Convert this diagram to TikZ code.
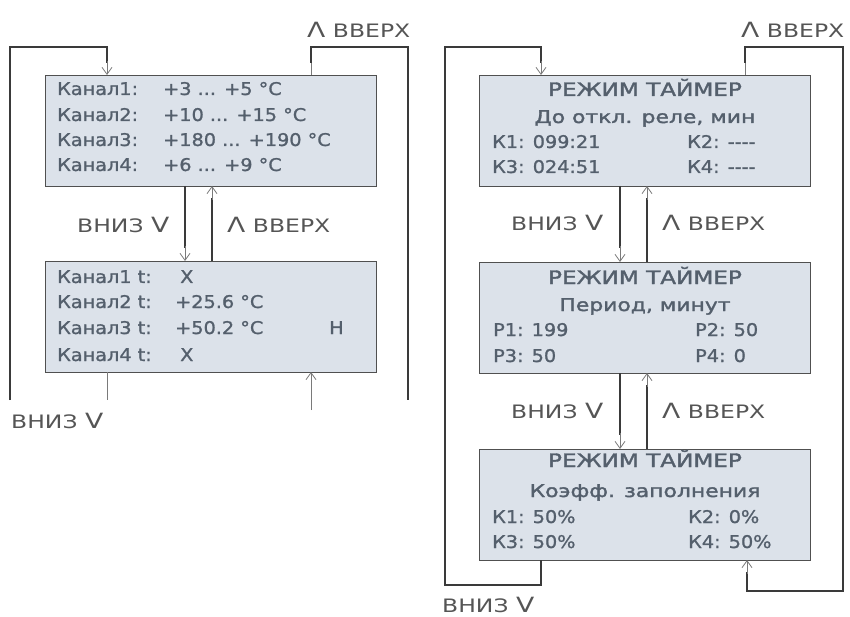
\documentclass[tikz,border=0pt]{standalone}
\usepackage{fontspec}
\setmainfont{DejaVu Sans}
\newfontfamily\lcdfont[FakeStretch=1.1,FakeBold=1.2]{DejaVu Sans}
\newfontfamily\lcdttl[FakeStretch=1.25,FakeBold=1.8]{DejaVu Sans}
\newfontfamily\lblfont[FakeStretch=1.27]{DejaVu Sans}
\usetikzlibrary{arrows.meta}
\definecolor{boxfill}{HTML}{DCE2EA}
\definecolor{boxline}{HTML}{505050}
\definecolor{txtcol}{HTML}{545F6C}
\definecolor{lblcol}{HTML}{555555}
\definecolor{linecol}{HTML}{3A3A3A}
\definecolor{arrcol}{HTML}{7A7A7A}
\begin{document}
\begin{tikzpicture}[x=1pt,y=-1pt,
 lcdbox/.style={draw=boxline, fill=boxfill, line width=1.3pt, minimum width=331pt, minimum height=111pt, inner sep=0pt, anchor=north west},
 txt/.style={text=txtcol, font=\lcdfont\fontsize{17.5}{20}\selectfont, anchor=base west, inner sep=0pt},
 ttl/.style={text=txtcol, font=\lcdttl\fontsize{18.5}{20}\selectfont, anchor=base, inner sep=0pt},
 sub/.style={text=txtcol, font=\lcdttl\fontsize{17.5}{20}\selectfont, anchor=base, inner sep=0pt},
 lbl/.style={text=lblcol, font=\lblfont\fontsize{18.5}{20}\selectfont, anchor=west, inner sep=0pt},
 conn/.style={draw=linecol, line width=1.2pt},
 faint/.style={draw=arrcol, line width=0.8pt},
 tip/.style={-{Straight Barb[length=7pt,width=10pt,line width=0.8pt,color=arrcol]}}
]
\useasboundingbox (0,0) rectangle (850,617);
\newcommand\bigV{{\fontsize{21}{21}\selectfont V}}
\newcommand\bigL{{\fontsize{21}{21}\selectfont Λ}}

% ---------- left panel ----------
\node[lcdbox] (L1) at (45,75) {};
\node[lcdbox] (L2) at (45,261) {};

\node[txt] (l1a) at (57,95) {Канал1:};  \node[txt] (l1av) at (163,95) {+3 ... +5 °C};
\node[txt] (l1b) at (57,121) {Канал2:}; \node[txt] (l1bv) at (163,121) {+10 ... +15 °C};
\node[txt] (l1c) at (57,146) {Канал3:}; \node[txt] (l1cv) at (163,146) {+180 ... +190 °C};
\node[txt] (l1d) at (57,171) {Канал4:}; \node[txt] (l1dv) at (163,171) {+6 ... +9 °C};

\node[txt] (l2a) at (57,283) {Канал1 t:}; \node[txt] (l2av) at (180,283) {X};
\node[txt] (l2b) at (57,308) {Канал2 t:}; \node[txt] (l2bv) at (175,308) {+25.6 °C};
\node[txt] (l2c) at (57,334) {Канал3 t:}; \node[txt] (l2cv) at (175,334) {+50.2 °C};
\node[txt] (l2h) at (329,334) {Н};
\node[txt] (l2d) at (57,361) {Канал4 t:}; \node[txt] (l2dv) at (180,361) {X};

\coordinate (L1in) at (107,75);
\coordinate (L1out) at (311,75);
\coordinate (Lleft) at (10,400);
\coordinate (Lright) at (408,400);
\coordinate (L2out) at (107,372);
\coordinate (L2outend) at (107,400);
\coordinate (L2instart) at (311,410);
\coordinate (L2in) at (311,372);

\draw[conn] (Lleft) -- (10,47) -- (L1in |- 0,47) -- ([yshift=12pt]L1in);
\draw[faint,tip] ([yshift=14pt]L1in) -- (L1in);
\draw[faint] (L1out) -- ([yshift=14pt]L1out);
\draw[conn] ([yshift=12pt]L1out) -- (L1out |- 0,47) -- (408,47) -- (Lright);
\draw[faint] (L2out) -- (L2outend);
\draw[faint,tip] (L2instart) -- (L2in);

\draw[conn] (185,186) -- (185,248);
\draw[faint,tip] (185,246) -- (185,261);
\draw[conn] (212,261) -- (212,198);
\draw[faint,tip] (212,200) -- (212,186);

\node[lbl] (lt) at (307,30) {\bigL\ ВВЕРХ};
\node[lbl] (lmd) at (77,225) {ВНИЗ \bigV};
\node[lbl] (lmu) at (227,225) {\bigL\ ВВЕРХ};
\node[lbl] (lb) at (11,421) {ВНИЗ \bigV};

% ---------- right panel ----------
\node[lcdbox] (R1) at (479,75) {};
\node[lcdbox] (R2) at (479,262) {};
\node[lcdbox] (R3) at (479,449) {};

\node[ttl] (r1t) at (645,96) {РЕЖИМ ТАЙМЕР};
\node[sub] (r1s) at (645,123) {До откл. реле, мин};
\node[txt] (r1a) at (492,148) {К1: 099:21};
\node[txt] (r1b) at (687,148) {К2: -{}-{}-{}-};
\node[txt] (r1c) at (492,173) {К3: 024:51};
\node[txt] (r1d) at (687,173) {К4: -{}-{}-{}-};

\node[ttl] (r2t) at (645,284) {РЕЖИМ ТАЙМЕР};
\node[sub] (r2s) at (645,311) {Период, минут};
\node[txt] (r2a) at (493,336) {P1: 199};
\node[txt] (r2b) at (695,336) {P2: 50};
\node[txt] (r2c) at (493,362) {P3: 50};
\node[txt] (r2d) at (695,362) {P4: 0};

\node[ttl] (r3t) at (645,467) {РЕЖИМ ТАЙМЕР};
\node[sub] (r3s) at (645,497) {Коэфф. заполнения};
\node[txt] (r3a) at (492,523) {К1: 50\%};
\node[txt] (r3b) at (688,523) {К2: 0\%};
\node[txt] (r3c) at (492,548) {К3: 50\%};
\node[txt] (r3d) at (688,548) {К4: 50\%};

\coordinate (R1in) at (541,75);
\coordinate (R1out) at (745,75);
\coordinate (R3out) at (541,560);
\coordinate (R3in) at (747,560);

\draw[conn] (R3out) -- (541,585) -- (445,585) -- (445,47) -- (R1in |- 0,47) -- ([yshift=12pt]R1in);
\draw[faint,tip] ([yshift=14pt]R1in) -- (R1in);
\draw[faint] (R1out) -- ([yshift=14pt]R1out);
\draw[conn] ([yshift=12pt]R1out) -- (R1out |- 0,47) -- (843,47) -- (843,591) -- (R3in |- 0,591) -- ([yshift=-12pt]R3in);
\draw[faint,tip] ([yshift=-14pt]R3in) -- (R3in);

\draw[conn] (620,186) -- (620,248);
\draw[faint,tip] (620,246) -- (620,262);
\draw[conn] (647,262) -- (647,198);
\draw[faint,tip] (647,200) -- (647,186);

\draw[conn] (620,373) -- (620,435);
\draw[faint,tip] (620,433) -- (620,449);
\draw[conn] (647,449) -- (647,385);
\draw[faint,tip] (647,387) -- (647,373);

\node[lbl] (rt) at (741,30) {\bigL\ ВВЕРХ};
\node[lbl] (rm1d) at (511,223) {ВНИЗ \bigV};
\node[lbl] (rm1u) at (662,223) {\bigL\ ВВЕРХ};
\node[lbl] (rm2d) at (511,411) {ВНИЗ \bigV};
\node[lbl] (rm2u) at (662,411) {\bigL\ ВВЕРХ};
\node[lbl] (rb) at (442,605) {ВНИЗ \bigV};
\end{tikzpicture}
\end{document}
